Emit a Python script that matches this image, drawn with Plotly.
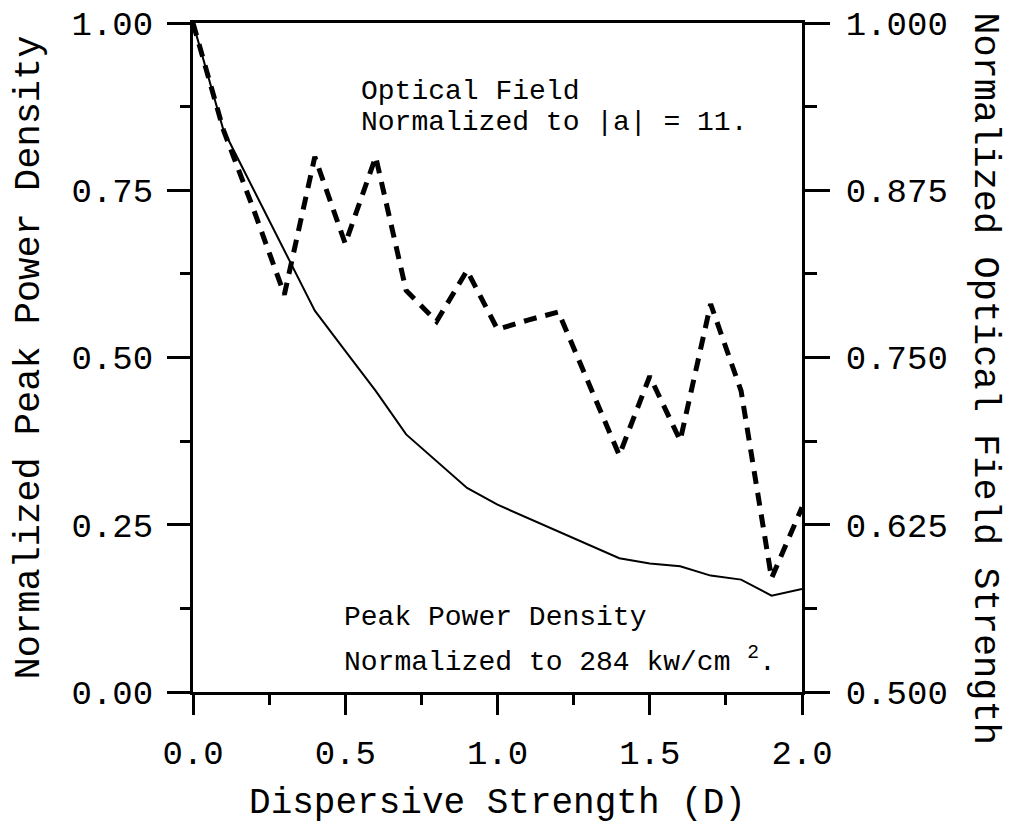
import plotly.graph_objects as go

# Dispersive strength D
d_vals = [0.0, 0.1, 0.2, 0.3, 0.4, 0.5, 0.6, 0.7, 0.8, 0.9, 1.0,
          1.1, 1.2, 1.3, 1.4, 1.5, 1.6, 1.7, 1.8, 1.9, 2.0]

# Normalized peak power density (left axis, solid)
peak_power = [1.0, 0.84, 0.75, 0.66, 0.57, 0.51, 0.45, 0.385, 0.345, 0.305, 0.28,
              0.26, 0.24, 0.22, 0.20, 0.192, 0.188, 0.174, 0.168, 0.144, 0.154]

# Normalized optical field strength (right axis, dashed)
field_strength = [1.0, 0.92, 0.86, 0.797, 0.90, 0.835, 0.90, 0.80, 0.777, 0.815, 0.771,
                  0.778, 0.784, 0.73, 0.677, 0.736, 0.688, 0.79, 0.725, 0.585, 0.638]

x_ticks = [0.0, 0.5, 1.0, 1.5, 2.0]
left_ticks = [0.0, 0.25, 0.5, 0.75, 1.0]
right_ticks = [0.5, 0.625, 0.75, 0.875, 1.0]

FONT = 'Liberation Mono, Courier New, monospace'

fig = go.Figure()

fig.add_trace(go.Scatter(
    x=d_vals, y=peak_power, mode='lines',
    line=dict(color='black', width=2),
    showlegend=False, name='Peak Power Density'
))

fig.add_trace(go.Scatter(
    x=d_vals, y=field_strength, mode='lines', yaxis='y2',
    line=dict(color='black', width=5, dash='13px,9px'),
    showlegend=False, name='Optical Field'
))

axis_common = dict(
    showline=True, linecolor='black', linewidth=3,
    showgrid=False, zeroline=False, automargin=False,
    ticks='outside', tickcolor='black', tickwidth=3,
    ticklabeloverflow='allow',
    tickfont=dict(family=FONT, size=34, color='black'),
)

# page body adds ~8px, so the figure is a bit smaller than the window
fig.update_layout(
    width=1005, height=821,
    paper_bgcolor='white', plot_bgcolor='white',
    margin=dict(l=185, r=211, t=15, b=137),
    font=dict(family=FONT, color='black'),
    xaxis=dict(
        **axis_common,
        range=[0, 2], tickvals=x_ticks, ticktext=['%.1f' % v for v in x_ticks],
        ticklen=20, ticklabelstandoff=8, mirror=True,
        minor=dict(dtick=0.25, tick0=0, ticks='outside', ticklen=10,
                   tickwidth=3, tickcolor='black'),
        title=dict(text='Dispersive Strength (D)', standoff=16,
                   font=dict(family=FONT, size=36, color='black')),
    ),
    yaxis=dict(
        **axis_common,
        range=[0, 1], tickvals=left_ticks, ticktext=['%.2f' % v for v in left_ticks],
        ticklen=23, ticklabelstandoff=7,
        minor=dict(dtick=0.125, tick0=0, ticks='outside', ticklen=10,
                   tickwidth=3, tickcolor='black'),
        title=dict(text='Normalized Peak Power Density', standoff=22,
                   font=dict(family=FONT, size=37, color='black')),
    ),
    yaxis2=dict(
        **axis_common,
        overlaying='y', side='right',
        range=[0.5, 1.0], tickvals=right_ticks, ticktext=['%.3f' % v for v in right_ticks],
        ticklen=25, ticklabelstandoff=9,
        minor=dict(dtick=0.0625, tick0=0.5, ticks='outside', ticklen=12,
                   tickwidth=3, tickcolor='black'),
    ),
)

ann_font = dict(family=FONT, size=28, color='black')
notes = [
    (0.544, 0.897, 'Optical Field'),
    (0.544, 0.851, 'Normalized to |a| = 11.'),
    (0.49, 0.112, 'Peak Power Density'),
    (0.49, 0.048, 'Normalized to 284 kw/cm <sup>2</sup>.'),
]
for x, y, txt in notes:
    fig.add_annotation(x=x, y=y, xref='x', yref='y', text=txt, showarrow=False,
                       xanchor='left', yanchor='middle', font=ann_font)

fig.add_annotation(
    x=1.3, y=0.468, xref='paper', yref='paper', text='Normalized Optical Field Strength',
    showarrow=False, textangle=90, xanchor='center', yanchor='middle',
    font=dict(family=FONT, size=37, color='black')
)

fig.write_html("out.html")
